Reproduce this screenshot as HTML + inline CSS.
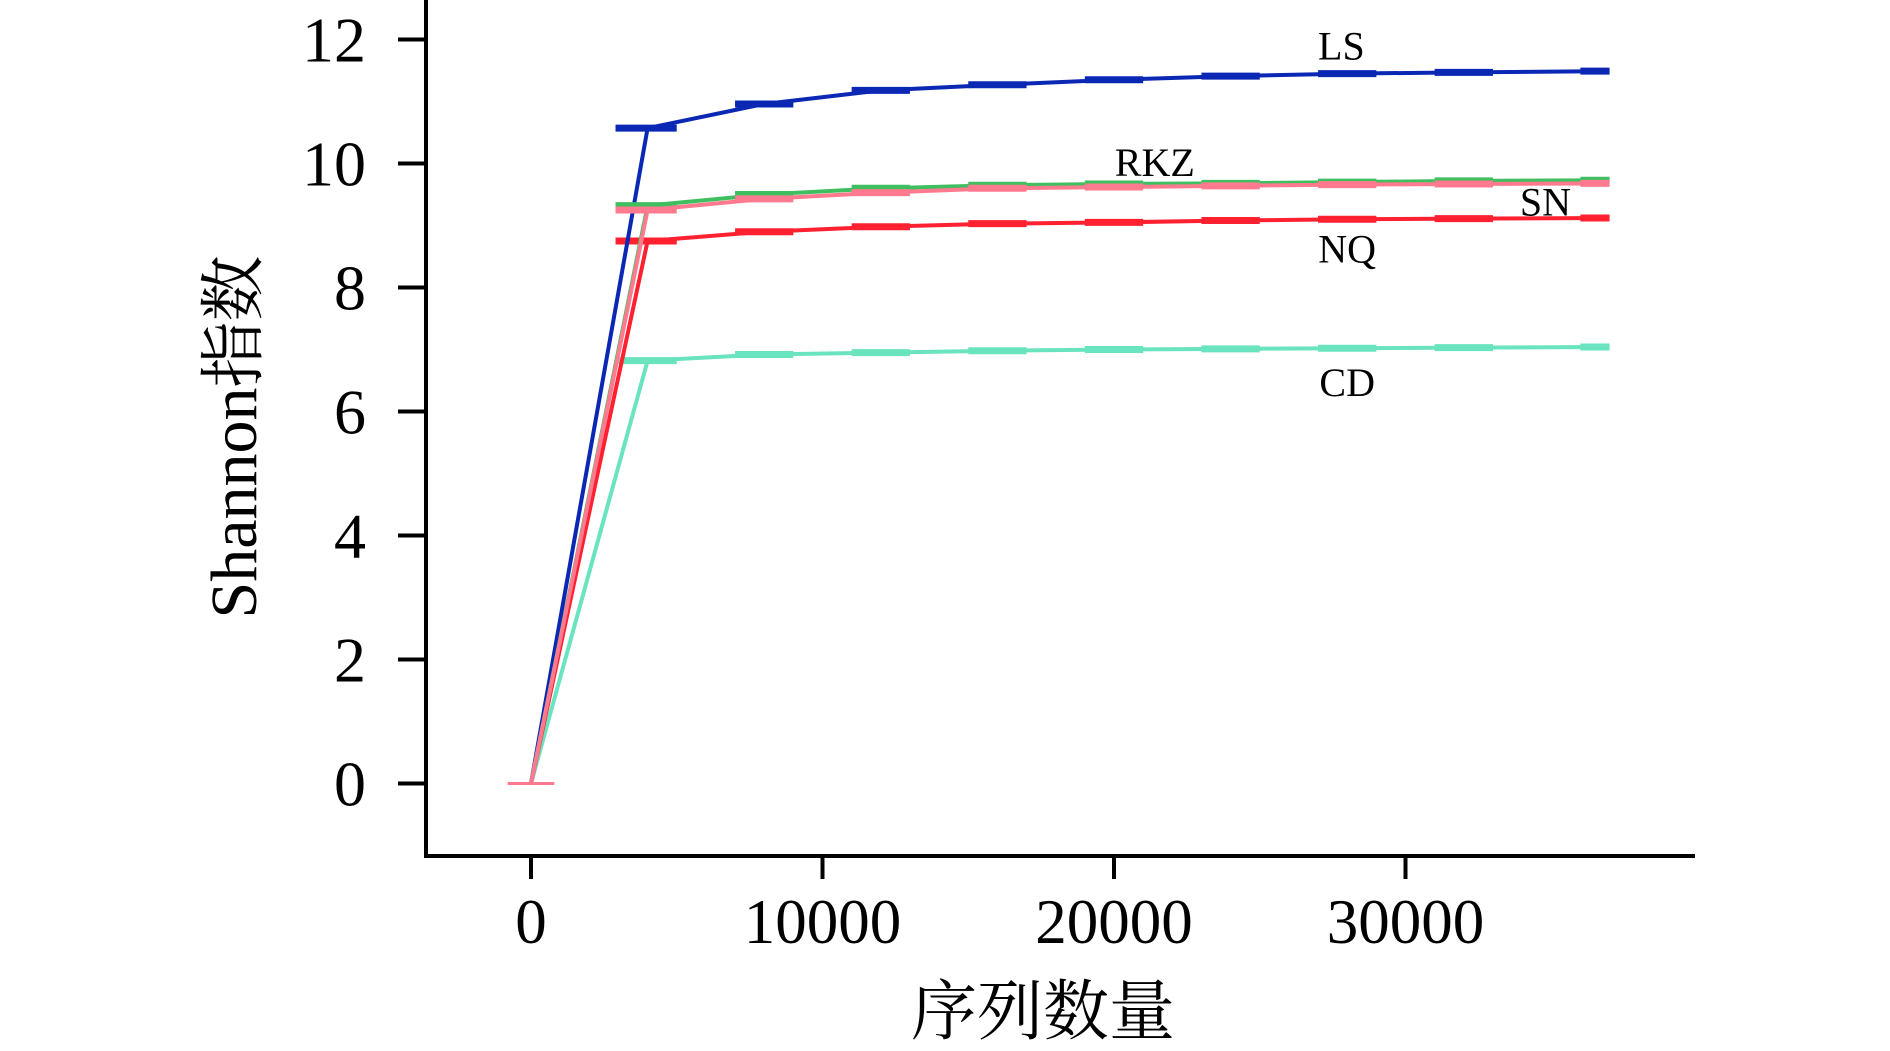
<!DOCTYPE html>
<html><head><meta charset="utf-8"><style>
html,body{margin:0;padding:0;background:#fff;}
svg{display:block;}
text{font-family:"Liberation Serif","Noto Serif CJK SC",serif;fill:#000;}
</style></head>
<body>
<svg id="chart" width="1890" height="1051" viewBox="0 0 1890 1051" xmlns="http://www.w3.org/2000/svg">
<g id="axes"></g>
<g id="series"></g>
<text transform="translate(256,437) rotate(-90)" text-anchor="middle" font-size="66">Shannon指数</text>
<text x="1043" y="1034" text-anchor="middle" font-size="66">序列数量</text>
</svg>
<script>
const xValues = [0, 4000, 8000, 12000, 16000, 20000, 24000, 28000, 32000, 37000];
const seriesNames = ["LS", "RKZ", "SN", "NQ", "CD"];
const seriesLS  = [0, 10.57, 10.96, 11.18, 11.27, 11.35, 11.41, 11.45, 11.47, 11.49];
const seriesRKZ = [0, 9.32, 9.50, 9.60, 9.65, 9.67, 9.68, 9.70, 9.72, 9.73];
const seriesSN  = [0, 9.25, 9.43, 9.53, 9.60, 9.62, 9.64, 9.66, 9.67, 9.68];
const seriesNQ  = [0, 8.75, 8.90, 8.98, 9.03, 9.05, 9.08, 9.10, 9.11, 9.12];
const seriesCD  = [0, 6.82, 6.92, 6.95, 6.98, 7.00, 7.01, 7.02, 7.03, 7.04];
const yTicks = [0, 2, 4, 6, 8, 10, 12];
const xTicks = [0, 10000, 20000, 30000];
const labelPos = [[27800, 11.68], [21400, 9.8], [34800, 9.16], [28000, 8.4], [28000, 6.25]];

const NS = "http://www.w3.org/2000/svg";
const sx = v => 531 + v * 0.02915;
const sy = v => 783.5 - v * 62.0;
function mk(tag, attrs, parent) {
  const e = document.createElementNS(NS, tag);
  for (const k in attrs) e.setAttribute(k, attrs[k]);
  parent.appendChild(e);
  return e;
}
const axes = document.getElementById('axes');
const ser = document.getElementById('series');

const yAx = mk('line', {x1: 426, y1: 0, x2: 426, y2: 858, stroke: '#000', 'stroke-width': 4}, axes);


const xAx = mk('line', {x1: 424, y1: 856, x2: 1695, y2: 856, stroke: '#000', 'stroke-width': 4}, axes);



yTicks.forEach(t => {
  const l = mk('line', {x1: 398, y1: sy(t), x2: 426, y2: sy(t), stroke: '#000', 'stroke-width': 4}, axes);
  
  
  const tx = mk('text', {x: 366, y: sy(t) + 22, 'text-anchor': 'end', 'font-size': 64}, axes);
  tx.textContent = t;
  
  
});
xTicks.forEach(t => {
  const l = mk('line', {x1: sx(t), y1: 856, x2: sx(t), y2: 879, stroke: '#000', 'stroke-width': 4}, axes);
  
  
  const tx = mk('text', {x: sx(t), y: 943, 'text-anchor': 'middle', 'font-size': 63}, axes);
  tx.textContent = t;
  
  
});

const allSeries = [seriesLS, seriesRKZ, seriesSN, seriesNQ, seriesCD];
const colors = ['#0a28b4', '#3fbf5f', '#ff7a8e', '#ff2030', '#6ae3bf'];
const order = [4, 3, 0, 1, 2];
order.forEach(i => {
  const vals = allSeries[i];
  const g = mk('g', {}, ser);
  
  
  const pts = xValues.map((x, j) => sx(x) + ',' + sy(vals[j])).join(' ');
  const pl = mk('polyline', {points: pts, fill: 'none', stroke: colors[i], 'stroke-width': 4}, g);
  
  
  const last = xValues.length - 1;
  xValues.forEach((x, j) => {
    if (j === 0) return;
    const left = j === 1 ? 1100 : 1000;
    const right = j === last ? 0 : 1000;
    const seg = mk('line', {x1: sx(x - left), y1: sy(vals[j]), x2: sx(x + right), y2: sy(vals[j]), stroke: colors[i], 'stroke-width': 7}, g);
    
    
  });
  const lp = labelPos[i];
  const lb = mk('text', {x: sx(lp[0]), y: sy(lp[1]), 'text-anchor': 'middle', 'font-size': 40}, g);
  lb.textContent = seriesNames[i];
  
  
});
const z = mk('line', {x1: sx(-800), y1: sy(0), x2: sx(800), y2: sy(0), stroke: '#ff7a8e', 'stroke-width': 3}, ser);


</script>
</body></html>
